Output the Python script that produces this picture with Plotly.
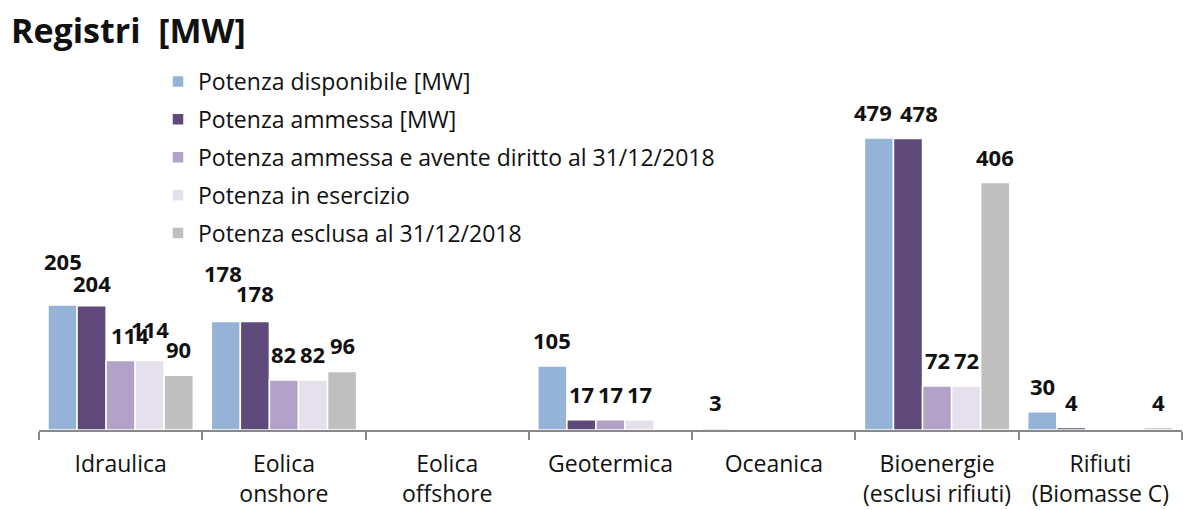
import plotly.graph_objects as go

categories = ["Idraulica", "Eolica<br>onshore", "Eolica<br>offshore", "Geotermica",
              "Oceanica", "Bioenergie<br>(esclusi rifiuti)", "Rifiuti<br>(Biomasse C)"]
series_names = ["Potenza disponibile [MW]", "Potenza ammessa [MW]",
                "Potenza ammessa e avente diritto al 31/12/2018",
                "Potenza in esercizio", "Potenza esclusa al 31/12/2018"]
potenza_disponibile = [205, 178, None, 105, 3, 479, 30]
potenza_ammessa = [204, 178, None, 17, None, 478, 4]
potenza_avente_diritto = [114, 82, None, 17, None, 72, None]
potenza_esercizio = [114, 82, None, 17, None, 72, None]
potenza_esclusa = [90, 96, None, None, None, 406, 4]
series_values = [potenza_disponibile, potenza_ammessa, potenza_avente_diritto,
                 potenza_esercizio, potenza_esclusa]
colors = ["#95B3D7", "#604A7B", "#B3A2C7", "#E6E0EC", "#BFBFBF"]

FONT = "Open Sans"
W, H = 1183, 510
ML, MR, MT, MB = 39, 1, 50, 80
PLOT_H = H - MT - MB
YMAX = PLOT_H / 0.6096
BARGAP = 0.11
cat_px = (W - ML - MR) / len(categories)
bar_px = cat_px * (1 - BARGAP) / len(series_names)

# label nudges (dx, dy) in px, mimicking the original label placement
nudges = {(0, 0): (0, 18), (0, 1): (0, -3), (0, 2): (9, 0), (0, 3): (0, 6),
          (1, 0): (-3, 22), (1, 1): (0, 2), (5, 0): (-6, 0), (5, 1): (11, 0)}

fig = go.Figure()
for k, (name, vals, col) in enumerate(zip(series_names, series_values, colors)):
    fig.add_trace(go.Bar(
        x=categories, y=vals, name=name, legendgroup=f"g{k}",
        marker=dict(color=col, line=dict(color="white", width=1.5)),
        hoverinfo="skip"))
    for j, v in enumerate(vals):
        if v is None:
            continue
        dx, dy = nudges.get((j, k), (0, 0))
        fig.add_annotation(
            x=categories[j], y=v, xref="x", yref="y", text=f"<b>{v}</b>",
            showarrow=False, xshift=(k - 2) * bar_px + dx, yshift=26 + dy,
            yanchor="middle", font=dict(family=FONT, size=22, color="#111111"))

fig.update_layout(
    width=W, height=H,
    margin=dict(l=ML, r=MR, t=MT, b=MB, autoexpand=False),
    paper_bgcolor="white", plot_bgcolor="white",
    barmode="group", bargap=BARGAP, bargroupgap=0.0,
    title=dict(text="<b>Registri  [MW]</b>", x=11 / W, xref="container", xanchor="left",
               y=1 - 31 / H, yref="container", yanchor="middle",
               font=dict(family=FONT, size=34, color="#111111")),
    legend=dict(x=(158 - ML) / (W - ML - MR), xanchor="left",
                y=(H - MB - 60) / PLOT_H, yanchor="top",
                traceorder="grouped", tracegroupgap=5,
                font=dict(family=FONT, size=23, color="#111111"),
                bgcolor="rgba(0,0,0,0)"),
    showlegend=True,
    font=dict(family=FONT, color="#111111"),
)
fig.update_xaxes(type="category", tickson="boundaries", ticks="outside", ticklen=8,
                 tickcolor="#898989", tickwidth=1.5, showline=True,
                 linecolor="#898989", linewidth=2, showgrid=False, automargin=False,
                 ticklabelstandoff=12,
                 tickfont=dict(family=FONT, size=23, color="#111111"))
fig.update_yaxes(range=[0, YMAX], visible=False, showgrid=False, zeroline=False,
                 automargin=False)

fig.write_html("out.html", config={"displayModeBar": False},
               post_script="document.body.style.margin='0';")
